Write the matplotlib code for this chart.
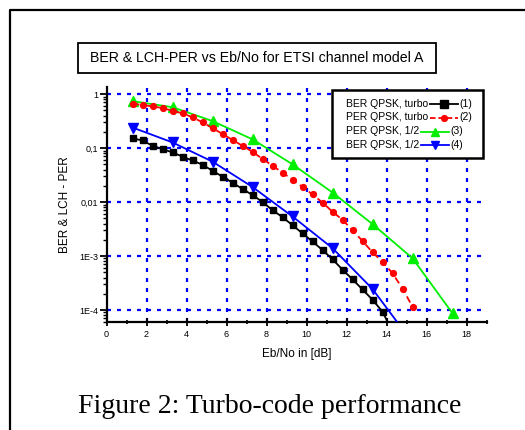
import matplotlib
matplotlib.use("Agg")
import matplotlib.pyplot as plt
from matplotlib.lines import Line2D
from matplotlib.patches import Rectangle
from matplotlib.ticker import FixedLocator, FixedFormatter, MultipleLocator, LogLocator, NullFormatter

plt.rcParams['font.family'] = ['Liberation Sans', 'DejaVu Sans']
plt.rcParams['lines.scale_dashes'] = False

# ---------------- data ----------------
x_ber_turbo = [1.3, 1.8, 2.3, 2.8, 3.3, 3.8, 4.3, 4.8, 5.3, 5.8, 6.3, 6.8, 7.3, 7.8,
               8.3, 8.8, 9.3, 9.8, 10.3, 10.8, 11.3, 11.8, 12.3, 12.8, 13.3, 13.8, 14.3]
ber_turbo = [0.151, 0.138, 0.110, 0.0955, 0.0832, 0.0692, 0.0589, 0.0490, 0.0380, 0.0295,
             0.0229, 0.0174, 0.0135, 0.0100, 0.00708, 0.00525, 0.00372, 0.00263, 0.00186,
             0.00129, 8.7e-4, 5.6e-4, 3.7e-4, 2.4e-4, 1.55e-4, 9.3e-5, 4.0e-5]

x_per_turbo = [1.3, 1.8, 2.3, 2.8, 3.3, 3.8, 4.3, 4.8, 5.3, 5.8, 6.3, 6.8, 7.3, 7.8, 8.3,
               8.8, 9.3, 9.8, 10.3, 10.8, 11.3, 11.8, 12.3, 12.8, 13.3, 13.8, 14.3, 14.8, 15.3]
per_turbo = [0.66, 0.63, 0.59, 0.55, 0.49, 0.44, 0.37, 0.30, 0.234, 0.182, 0.141, 0.110,
             0.085, 0.063, 0.047, 0.035, 0.026, 0.019, 0.0138, 0.0098, 0.0066, 0.0047,
             0.0030, 0.0019, 0.00117, 7.8e-4, 4.8e-4, 2.5e-4, 1.15e-4]

x_per_half = [1.3, 3.3, 5.3, 7.3, 9.3, 11.3, 13.3, 15.3, 17.3]
per_half = [0.74, 0.57, 0.316, 0.145, 0.050, 0.015, 0.0039, 9.1e-4, 8.7e-5]

x_ber_half = [1.3, 3.3, 5.3, 7.3, 9.3, 11.3, 13.3, 15.3]
ber_half = [0.24, 0.127, 0.056, 0.019, 0.0054, 0.0014, 2.45e-4, 2.5e-5]

series_labels = ["BER QPSK, turbo", "PER QPSK, turbo", "PER QPSK, 1/2", "BER QPSK, 1/2"]
series_tags = ["(1)", "(2)", "(3)", "(4)"]

y_ticks = [1, 0.1, 0.01, 1e-3, 1e-4]
y_tick_labels = ["1", "0,1", "0,01", "1E-3", "1E-4"]
x_ticks = [0, 2, 4, 6, 8, 10, 12, 14, 16, 18]
x_tick_labels = ["0", "2", "4", "6", "8", "10", "12", "14", "16", "18"]

title_text = "BER & LCH-PER vs Eb/No for ETSI channel model A"
caption_text = "Figure 2: Turbo-code performance"
xlabel_text = "Eb/No in [dB]"
ylabel_text = "BER & LCH - PER"

# ---------------- figure ----------------
W, H = 525, 430
fig = plt.figure(figsize=(W / 100, H / 100), dpi=100)


def fx(x):
    return x / W


def fy(y):
    return 1 - y / H


ax_left, ax_right, ax_top, ax_bottom = 106.5, 486.5, 87, 322
ax = fig.add_axes([fx(ax_left), fy(ax_bottom), (ax_right - ax_left) / W, (ax_bottom - ax_top) / H])
ax.set_yscale('log')
ax.set_xlim(0, 19)
ax.set_ylim(6.0e-5, 1.35)

for s in ['top', 'right']:
    ax.spines[s].set_visible(False)
for s in ['left', 'bottom']:
    ax.spines[s].set_linewidth(1.6)

ax.xaxis.set_major_locator(FixedLocator(x_ticks))
ax.xaxis.set_major_formatter(FixedFormatter(x_tick_labels))
ax.xaxis.set_minor_locator(MultipleLocator(1))
ax.yaxis.set_major_locator(FixedLocator(y_ticks))
ax.yaxis.set_major_formatter(FixedFormatter(y_tick_labels))
ax.yaxis.set_minor_locator(LogLocator(base=10, subs=range(2, 10)))
ax.yaxis.set_minor_formatter(NullFormatter())

ax.tick_params(axis='x', which='major', direction='inout', length=6, width=1.3, labelsize=6.5, pad=3)
ax.tick_params(axis='x', which='minor', direction='inout', length=3.5, width=1.2)
ax.tick_params(axis='y', which='major', direction='out', length=5, width=1.3, labelsize=6.5, pad=1)
ax.tick_params(axis='y', which='minor', direction='out', length=3, width=1.0)

grid_style = dict(color='#0000ff', linewidth=1.6, linestyle=(0, (2.9, 4.3)), zorder=1)
for yt in y_ticks:
    ax.axhline(yt, **grid_style)
for xt in x_ticks[1:]:
    ax.axvline(xt, **grid_style)

ax.plot(x_per_half, per_half, color='#00ee00', lw=1.3, marker='^', ms=6.5, zorder=3)
ax.plot(x_per_turbo, per_turbo, color='#ff0000', lw=1.3, ls=(0, (5, 3)), marker='o', ms=4.2, zorder=3)
ax.plot(x_ber_half, ber_half, color='#0000ff', lw=1.3, marker='v', ms=6.5, zorder=3)
ax.plot(x_ber_turbo, ber_turbo, color='#000000', lw=1.3, marker='s', ms=5.0, zorder=4)

ax.set_xlabel(xlabel_text, fontsize=8.5, labelpad=6)
ax.set_ylabel(ylabel_text, fontsize=8.5, labelpad=6)

# title box
fig.add_artist(Rectangle((fx(78), fy(73)), (436 - 78) / W, (73 - 43) / H, transform=fig.transFigure,
                         fill=False, lw=1.3, edgecolor='black'))
fig.text(fx(257), fy(58.5), title_text, ha='center', va='center', fontsize=10.2)

# legend box
fig.add_artist(Rectangle((fx(332), fy(158)), (483 - 332) / W, (158 - 90) / H, transform=fig.transFigure,
                         facecolor='white', lw=1.8, edgecolor='black', zorder=5))
fig.canvas.draw()
renderer = fig.canvas.get_renderer()
colors = ['#000000', '#ff0000', '#00ee00', '#0000ff']
markers = ['s', 'o', '^', 'v']
msizes = [5.5, 4.2, 6, 6]
rows_y = [104, 117.5, 131.5, 145]
for lab, tag, c, m, msz, yy in zip(series_labels, series_tags, colors, markers, msizes, rows_y):
    t = fig.text(fx(346), fy(yy), lab, ha='left', va='center', fontsize=7.5, zorder=6)
    bb = t.get_window_extent(renderer)
    x0 = bb.x1 + 2
    x1 = x0 + 28
    ls = (0, (4, 2)) if c == '#ff0000' else '-'
    fig.add_artist(Line2D([fx(x0), fx(x1)], [fy(yy), fy(yy)], transform=fig.transFigure,
                          color=c, lw=1.3, ls=ls, zorder=6))
    fig.add_artist(Line2D([fx((x0 + x1) / 2)], [fy(yy)], transform=fig.transFigure,
                          color=c, marker=m, ms=msz, zorder=7))
    fig.text(fx(x1 + 1), fy(yy), tag, ha='left', va='center', fontsize=7.5, zorder=6)

# outer frame (left and top edges visible)
fig.add_artist(Line2D([fx(10), fx(10), fx(530)], [fy(440), fy(10), fy(10)], transform=fig.transFigure,
                      color='black', lw=1.6))

# caption
fig.text(fx(270), fy(413), caption_text, ha='center', va='baseline', fontsize=20,
         family=['Liberation Serif', 'DejaVu Serif'])

fig.savefig('out.png', dpi=100)
